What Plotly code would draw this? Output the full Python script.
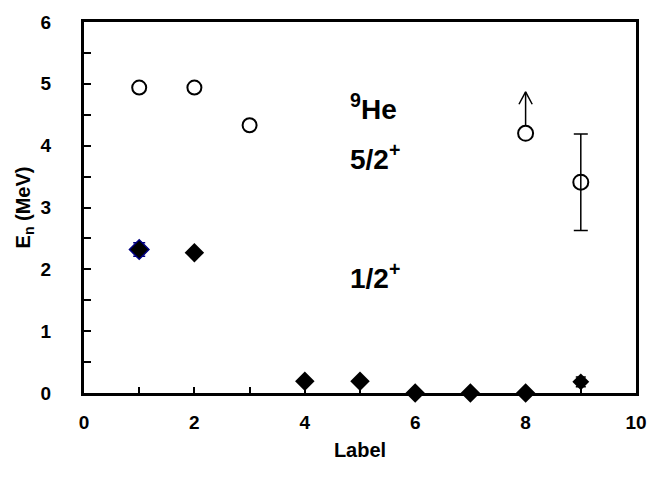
import plotly.graph_objects as go

# 5/2+ state (open circles)
x_52 = [1, 2, 3]
y_52 = [4.94, 4.94, 4.33]

# 5/2+ point with error bar
x_52e = [9]
y_52e = [3.41]
err_52e = [0.78]

# lower limit point at x=8 (open circle + upward arrow)
x_lim = [8]
y_lim = [4.20]
arrow_top = [4.87]

# 1/2+ state (filled diamonds)
x_12 = [2, 4, 5, 6, 7, 8]
y_12 = [2.27, 0.19, 0.19, 0.0, 0.0, 0.0]

# 1/2+ points with error bars
x_12e = [1]
y_12e = [2.32]
err_12e = [0.11]
x_12b = [9]
y_12b = [0.18]
err_12b = [0.08]

x_ticks = [0, 2, 4, 6, 8, 10]
y_ticks = [0, 1, 2, 3, 4, 5, 6]

labels = ["<sup>9</sup>He", "5/2<sup>+</sup>", "1/2<sup>+</sup>"]
label_x = [4.78, 4.78, 4.78]
label_y = [4.62, 3.82, 1.9]

FONT = "Liberation Sans, Arial, sans-serif"

fig = go.Figure()

fig.add_trace(go.Scatter(
    x=x_52, y=y_52, mode="markers",
    marker=dict(symbol="circle-open", size=14, color="black", line=dict(width=2)),
    showlegend=False, cliponaxis=False))

fig.add_trace(go.Scatter(
    x=x_52e, y=y_52e, mode="markers",
    marker=dict(symbol="circle-open", size=15, color="black", line=dict(width=2)),
    error_y=dict(type="data", array=err_52e, visible=True, color="black", thickness=1.5, width=7),
    showlegend=False, cliponaxis=False))

fig.add_trace(go.Scatter(
    x=x_lim, y=y_lim, mode="markers",
    marker=dict(symbol="circle-open", size=15, color="black", line=dict(width=2)),
    showlegend=False))

# upward arrow for lower limit
for xv, yv, yt in zip(x_lim, y_lim, arrow_top):
    fig.add_trace(go.Scatter(
        x=[xv, xv], y=[yv + 0.13, yt], mode="lines",
        line=dict(color="black", width=1.5), showlegend=False, hoverinfo="skip"))
    fig.add_trace(go.Scatter(
        x=[xv - 0.12, xv, xv + 0.12], y=[yt - 0.2, yt, yt - 0.2], mode="lines",
        line=dict(color="black", width=1.5), showlegend=False, hoverinfo="skip"))

fig.add_trace(go.Scatter(
    x=x_12, y=y_12, mode="markers",
    marker=dict(symbol="diamond", size=15, color="black"),
    showlegend=False, cliponaxis=False))

fig.add_trace(go.Scatter(
    x=x_12e, y=y_12e, mode="markers",
    marker=dict(symbol="diamond", size=15, color="black", line=dict(color="#000080", width=1.5)),
    error_y=dict(type="data", array=err_12e, visible=True, color="#000080", thickness=1.5, width=6),
    showlegend=False))

fig.add_trace(go.Scatter(
    x=x_12b, y=y_12b, mode="markers",
    marker=dict(symbol="circle", size=11, color="black"),
    error_y=dict(type="data", array=err_12b, visible=True, color="black", thickness=1.5, width=5),
    showlegend=False, cliponaxis=False))
fig.add_trace(go.Scatter(
    x=x_12b, y=y_12b, mode="markers",
    marker=dict(symbol="diamond", size=13, color="black"),
    showlegend=False, cliponaxis=False))

for t, xv, yv in zip(labels, label_x, label_y):
    fig.add_annotation(x=xv, y=yv, text="<b>" + t + "</b>", showarrow=False,
                       xanchor="left", yanchor="middle",
                       font=dict(family=FONT, size=28, color="black"))

fig.update_layout(
    width=659, height=482, autosize=False,
    margin=dict(l=84, r=13, t=20, b=89),
    paper_bgcolor="white", plot_bgcolor="white",
    font=dict(family=FONT, color="black"),
)

fig.update_xaxes(
    range=[0, 10], tickvals=x_ticks, ticktext=["<b>%d</b>" % v for v in x_ticks],
    ticks="inside", ticklen=6, tickwidth=1.5, tickcolor="black",
    minor=dict(dtick=1, ticks="inside", ticklen=6, tickwidth=1.5, tickcolor="black"),
    showline=True, linewidth=3, linecolor="black", mirror=True,
    showgrid=False, zeroline=False,
    tickfont=dict(family=FONT, size=19, color="black"),
    ticklabelstandoff=10,
    title=dict(text="<b>Label</b>", font=dict(family=FONT, size=20, color="black"), standoff=12),
)

fig.update_yaxes(
    range=[0, 6], tickvals=y_ticks, ticktext=["<b>%d</b>" % v for v in y_ticks],
    ticks="inside", ticklen=7, tickwidth=1.5, tickcolor="black",
    minor=dict(dtick=0.5, ticks="inside", ticklen=7, tickwidth=1.5, tickcolor="black"),
    showline=True, linewidth=3, linecolor="black", mirror=True,
    showgrid=False, zeroline=False,
    tickfont=dict(family=FONT, size=19, color="black"),
    ticklabelstandoff=26,
    title=dict(text="<b>E<sub>n</sub> (MeV)</b>", font=dict(family=FONT, size=20, color="black"), standoff=5),
)

fig.write_html("out.html", config={"displayModeBar": False},
               post_script="document.body.style.margin='0px';")
